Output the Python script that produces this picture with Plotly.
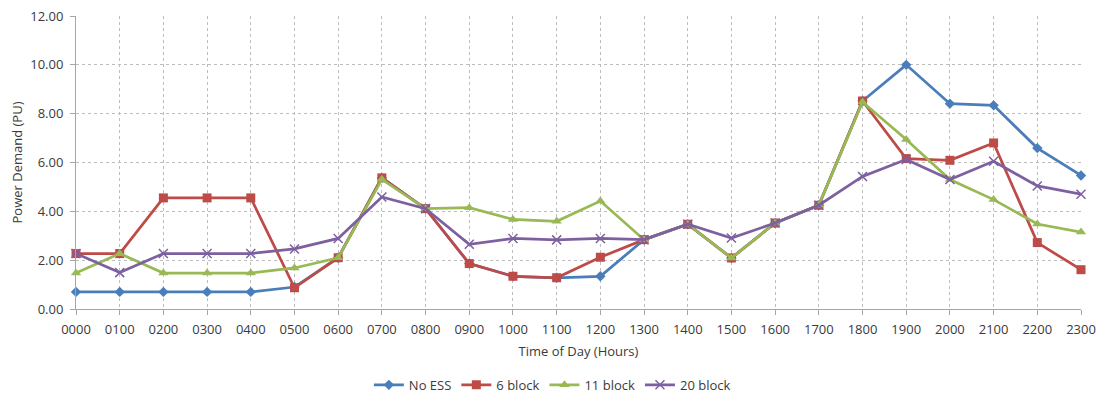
import plotly.graph_objects as go

hours = ["0000","0100","0200","0300","0400","0500","0600","0700","0800","0900","1000","1100",
         "1200","1300","1400","1500","1600","1700","1800","1900","2000","2100","2200","2300"]

no_ess   = [0.70,0.70,0.70,0.70,0.70,0.90,2.10,5.37,4.11,1.86,1.34,1.28,1.34,2.84,3.47,2.09,3.52,4.25,8.52,10.00,8.41,8.34,6.59,5.47]
block_6  = [2.27,2.27,4.55,4.55,4.55,0.87,2.10,5.37,4.11,1.86,1.34,1.28,2.12,2.84,3.47,2.09,3.52,4.25,8.52,6.16,6.09,6.80,2.72,1.61]
block_11 = [1.47,2.27,1.47,1.47,1.47,1.68,2.10,5.31,4.11,4.15,3.67,3.59,4.42,2.84,3.47,2.09,3.52,4.25,8.48,6.94,5.30,4.48,3.48,3.15]
block_20 = [2.27,1.49,2.27,2.27,2.27,2.46,2.89,4.59,4.11,2.65,2.89,2.83,2.89,2.84,3.47,2.91,3.52,4.25,5.43,6.12,5.30,6.05,5.04,4.70]

y_ticks = [0, 2, 4, 6, 8, 10, 12]
y_labels = ["0.00","2.00","4.00","6.00","8.00","10.00","12.00"]

series = [
    ("No ESS", no_ess, "#4A7EBB", "diamond", 8),
    ("6 block", block_6, "#BE4B48", "square", 9),
    ("11 block", block_11, "#98B954", "triangle-up", 9),
    ("20 block", block_20, "#7D60A0", "x-thin-open", 9),
]

x = list(range(len(hours)))
fig = go.Figure()
for name, vals, color, sym, size in series:
    fig.add_trace(go.Scatter(
        x=x, y=vals, name=name, mode="lines+markers",
        line=dict(color=color, width=2.75),
        marker=dict(symbol=sym, size=size, color=color,
                    line=dict(color=color, width=1.5 if sym.startswith("x") else 0)),
        cliponaxis=False,
    ))

font_family = "Open Sans, Liberation Sans, sans-serif"
txt = "#3A3A3A"
# page has an 8px body margin, so the figure is sized/offset to compensate
fig.update_layout(
    width=1098, height=389,
    margin=dict(l=68, r=25, t=8, b=88, autoexpand=False),
    paper_bgcolor="white", plot_bgcolor="white",
    font=dict(family=font_family, size=13, color=txt),
    showlegend=True,
    legend=dict(orientation="h", x=0.474, xanchor="center", y=-0.259, yanchor="middle",
                font=dict(size=13, color=txt), itemwidth=30),
    xaxis=dict(
        range=[0, 23], tickvals=x, ticktext=hours, automargin=False,
        showgrid=True, gridcolor="#BDBDBD", griddash="dot", gridwidth=1,
        showline=True, linecolor="#A6A6A6", linewidth=1,
        ticks="outside", ticklen=5, tickcolor="#A6A6A6", ticklabelstandoff=3,
        ticklabeloverflow="allow",
        tickfont=dict(size=13, color=txt),
        title=dict(text="Time of Day (Hours)", font=dict(size=13, color=txt), standoff=10),
        zeroline=False,
    ),
    yaxis=dict(
        range=[0, 12], tickvals=y_ticks, ticktext=y_labels, automargin=False,
        showgrid=True, gridcolor="#BDBDBD", griddash="dot", gridwidth=1,
        showline=True, linecolor="#A6A6A6", linewidth=1,
        ticks="outside", ticklen=5, tickcolor="#A6A6A6", ticklabelstandoff=4,
        ticklabeloverflow="allow",
        tickfont=dict(size=13, color=txt),
        title=dict(text="Power Demand (PU)", font=dict(size=13, color=txt), standoff=8),
        zeroline=False,
    ),
)

fig.write_html("out.html")
